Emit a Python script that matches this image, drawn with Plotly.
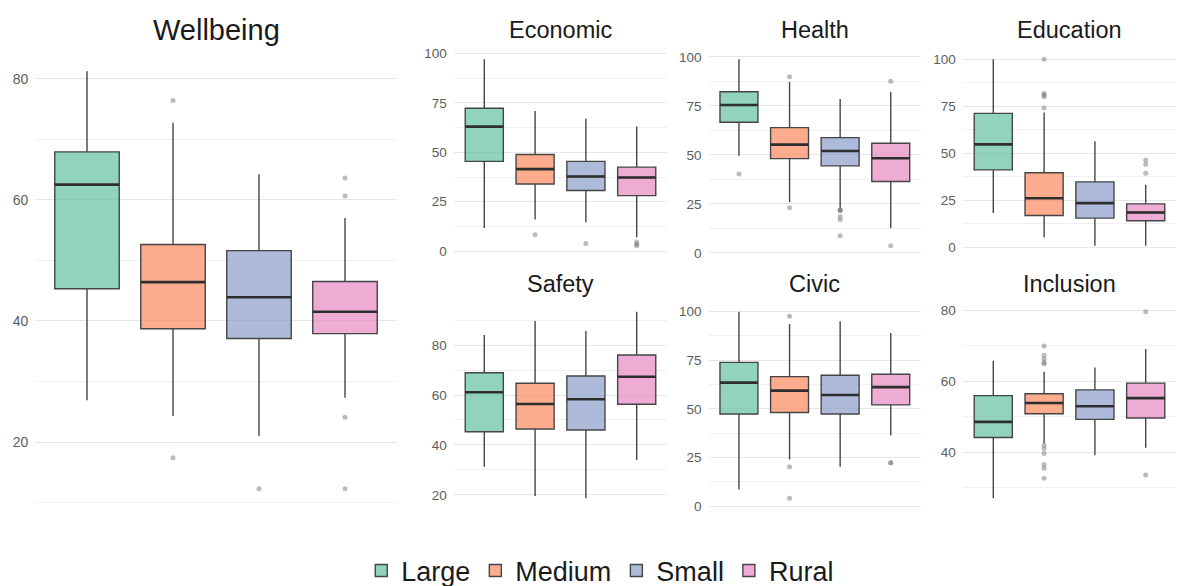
import plotly.graph_objects as go

# Settlement groups, in plotting order
groups = ["Large", "Medium", "Small", "Rural"]
fill_colors = ["rgba(102,194,165,0.72)", "rgba(252,141,98,0.72)",
               "rgba(141,160,203,0.72)", "rgba(231,138,195,0.72)"]

# Box statistics per indicator, one value per group (Large, Medium, Small, Rural)
wellbeing_lower = [26.9, 24.3, 21.0, 27.3]
wellbeing_q1 = [45.3, 38.7, 37.1, 37.9]
wellbeing_median = [62.5, 46.4, 43.9, 41.5]
wellbeing_q3 = [67.9, 52.6, 51.6, 46.5]
wellbeing_upper = [81.2, 72.7, 64.2, 57.0]
wellbeing_outliers = [[], [76.4, 17.4], [12.3], [63.6, 60.6, 24.1, 12.3]]

economic_lower = [11.8, 16.0, 14.6, 7.1]
economic_q1 = [45.4, 34.0, 30.7, 28.1]
economic_median = [63.0, 41.5, 37.8, 37.3]
economic_q3 = [72.3, 48.9, 45.4, 42.5]
economic_upper = [97.0, 70.9, 66.9, 63.0]
economic_outliers = [[], [8.3], [3.9], [4.6, 3.5, 2.8]]

health_lower = [49.5, 25.8, 22.9, 12.7]
health_q1 = [66.6, 48.1, 44.4, 36.4]
health_median = [75.4, 55.2, 52.0, 48.3]
health_q3 = [82.2, 63.9, 58.8, 55.9]
health_upper = [98.7, 87.1, 78.5, 82.0]
health_outliers = [[40.2], [89.8, 23.0], [21.7, 21.7, 21.9, 18.6, 16.9, 8.8], [87.5, 3.7]]

education_lower = [18.1, 5.1, 0.7, 0.7]
education_q1 = [41.1, 16.8, 15.4, 14.0]
education_median = [54.7, 26.0, 23.4, 18.4]
education_q3 = [71.2, 39.6, 34.7, 23.0]
education_upper = [100.0, 71.7, 56.3, 33.1]
education_outliers = [[], [100.0, 81.8, 81.0, 80.0, 74.1], [], [46.4, 44.1, 39.3]]

safety_lower = [31.3, 19.6, 18.7, 34.0]
safety_q1 = [45.3, 46.4, 46.0, 56.3]
safety_median = [61.1, 56.4, 58.3, 67.3]
safety_q3 = [68.9, 64.7, 67.6, 76.0]
safety_upper = [84.0, 89.6, 85.6, 93.3]
safety_outliers = [[], [], [], []]

civic_lower = [8.7, 24.0, 20.3, 36.4]
civic_q1 = [47.3, 48.1, 47.3, 52.0]
civic_median = [63.4, 59.3, 57.1, 61.1]
civic_q3 = [73.8, 66.5, 67.2, 67.7]
civic_upper = [99.7, 93.4, 94.9, 88.9]
civic_outliers = [[], [97.4, 20.3, 4.2], [], [22.3, 22.3]]

inclusion_lower = [27.1, 42.5, 39.2, 41.3]
inclusion_q1 = [44.2, 50.9, 49.3, 49.7]
inclusion_median = [48.6, 53.9, 53.0, 55.3]
inclusion_q3 = [56.0, 56.5, 57.6, 59.5]
inclusion_upper = [65.8, 62.7, 63.9, 69.1]
inclusion_outliers = [[], [70.0, 67.4, 66.3, 65.3, 65.0, 42.0, 41.1, 39.7, 36.6, 35.5, 32.7],
                      [], [79.6, 33.6]]

# Axis breaks per indicator
wellbeing_ticks, wellbeing_minor = [20, 40, 60, 80], [10, 30, 50, 70]
pct_ticks, pct_minor = [0, 25, 50, 75, 100], [12.5, 37.5, 62.5, 87.5]
safety_ticks, safety_minor = [20, 40, 60, 80], [30, 50, 70, 90]
inclusion_ticks, inclusion_minor = [40, 60, 80], [30, 50, 70]

W, H = 1177, 586

# Panel layout in pixels: (left, right, top, bottom)
col_x = [(453.8, 667.2), (708.6, 921.1), (962.8, 1176.2)]
row_y = [(50.0, 255.0), (302.5, 507.5)]

panels = [
    ("Wellbeing", (35.4, 396.6, 50.5, 509.5), wellbeing_lower, wellbeing_q1, wellbeing_median,
     wellbeing_q3, wellbeing_upper, wellbeing_outliers, wellbeing_ticks, wellbeing_minor, 29, 14),
    ("Economic", (*col_x[0], *row_y[0]), economic_lower, economic_q1, economic_median,
     economic_q3, economic_upper, economic_outliers, pct_ticks, pct_minor, 23.5, 13.5),
    ("Health", (*col_x[1], *row_y[0]), health_lower, health_q1, health_median,
     health_q3, health_upper, health_outliers, pct_ticks, pct_minor, 23.5, 13.5),
    ("Education", (*col_x[2], *row_y[0]), education_lower, education_q1, education_median,
     education_q3, education_upper, education_outliers, pct_ticks, pct_minor, 23.5, 13.5),
    ("Safety", (*col_x[0], *row_y[1]), safety_lower, safety_q1, safety_median,
     safety_q3, safety_upper, safety_outliers, safety_ticks, safety_minor, 23.5, 13.5),
    ("Civic", (*col_x[1], *row_y[1]), civic_lower, civic_q1, civic_median,
     civic_q3, civic_upper, civic_outliers, pct_ticks, pct_minor, 23.5, 13.5),
    ("Inclusion", (*col_x[2], *row_y[1]), inclusion_lower, inclusion_q1, inclusion_median,
     inclusion_q3, inclusion_upper, inclusion_outliers, inclusion_ticks, inclusion_minor, 23.5, 13.5),
]

FONT = "Liberation Sans, Arial, sans-serif"
BOX_WIDTH = 0.75

fig = go.Figure()
annotations = []
layout_axes = {}

for p, (title, (x0, x1, y0, y1), lo, q1, med, q3, hi, outl, ticks, minor, tsize, ksize) in enumerate(panels):
    suffix = "" if p == 0 else str(p + 1)
    xref, yref = "x" + suffix, "y" + suffix
    positions = [i + 1 for i in range(len(groups))]

    for i, g in enumerate(groups):
        fig.add_trace(go.Box(
            x=[positions[i]], q1=[q1[i]], median=[med[i]], q3=[q3[i]],
            lowerfence=[lo[i]], upperfence=[hi[i]],
            width=BOX_WIDTH, whiskerwidth=0, boxpoints=False,
            fillcolor=fill_colors[i], line=dict(color="#454545", width=1.4),
            name=g, legendgroup=g, showlegend=(p == 0),
            xaxis=xref, yaxis=yref, hoverinfo="skip",
        ))

    # Thicker median bars
    mx, my = [], []
    for i in range(len(groups)):
        mx += [positions[i] - BOX_WIDTH / 2, positions[i] + BOX_WIDTH / 2, None]
        my += [med[i], med[i], None]
    fig.add_trace(go.Scatter(x=mx, y=my, mode="lines", line=dict(color="#2e2e2e", width=2.6),
                             showlegend=False, hoverinfo="skip", xaxis=xref, yaxis=yref))

    # Outlying observations
    ox, oy = [], []
    for i in range(len(groups)):
        ox += [positions[i]] * len(outl[i])
        oy += outl[i]
    if ox:
        fig.add_trace(go.Scatter(x=ox, y=oy, mode="markers",
                                 marker=dict(color="rgba(120,120,120,0.5)", size=5),
                                 showlegend=False, hoverinfo="skip", xaxis=xref, yaxis=yref))

    all_vals = lo + hi + [v for grp in outl for v in grp]
    vmin, vmax = min(all_vals), max(all_vals)
    pad = 0.05 * (vmax - vmin)

    layout_axes["xaxis" + suffix] = dict(
        domain=[x0 / W, x1 / W], range=[0.4, 4.6], anchor=yref,
        showticklabels=False, showgrid=False, zeroline=False, showline=False, ticks="",
    )
    layout_axes["yaxis" + suffix] = dict(
        domain=[1 - y1 / H, 1 - y0 / H], range=[vmin - pad, vmax + pad], anchor=xref,
        tickmode="array", tickvals=ticks, ticktext=[str(t) for t in ticks],
        showgrid=True, gridcolor="#e6e6e6", gridwidth=1,
        minor=dict(tickvals=minor, showgrid=True, gridcolor="#f0f0f0", gridwidth=1, ticks=""),
        zeroline=False, showline=False, ticks="", ticklabelstandoff=6,
        tickfont=dict(family=FONT, size=ksize, color="#5c5c5c"),
    )

    title_y = 30 if y0 < 100 else 284
    annotations.append(dict(
        text=title, x=(x0 + x1) / 2 / W, y=1 - title_y / H, xref="paper", yref="paper",
        xanchor="center", yanchor="middle", showarrow=False,
        font=dict(family=FONT, size=tsize, color="#1a1a1a"),
    ))

fig.update_layout(
    width=W, height=H,
    margin=dict(l=0, r=0, t=0, b=0, autoexpand=False),
    paper_bgcolor="white", plot_bgcolor="white",
    showlegend=True,
    legend=dict(orientation="h", x=0.51, xanchor="center", y=1 - 571 / H, yanchor="middle",
                font=dict(family=FONT, size=27, color="#1a1a1a"), itemwidth=30,
                bgcolor="rgba(0,0,0,0)"),
    annotations=annotations,
    **layout_axes,
)

fig.write_html("out.html")
